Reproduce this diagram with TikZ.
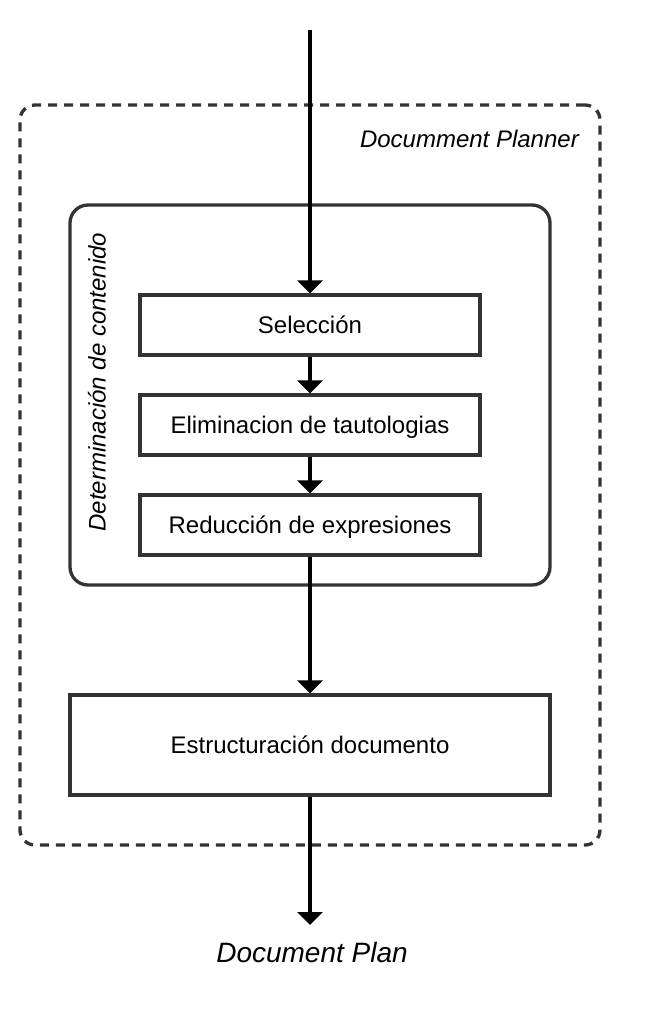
\documentclass[tikz,border=0pt]{standalone}
\usepackage{fontspec}
\setmainfont{Liberation Sans}
\usetikzlibrary{arrows.meta}
\definecolor{strokegray}{HTML}{333333}
\tikzset{
  procbox/.style={draw=strokegray, line width=3.3pt, fill=white, inner sep=0pt,
    text height=17.2pt, text depth=0pt,
    font=\fontsize{24}{29}\selectfont},
  groupbox/.style={draw=strokegray, line width=3.3pt, inner sep=0pt, rounded corners=18pt},
  dashbox/.style={draw=strokegray, line width=3.3pt, inner sep=0pt, rounded corners=15pt,
    dash pattern=on 9pt off 7pt},
  flow/.style={draw=black, line width=3.6pt, -{Triangle[width=25pt,length=13pt]}},
  label/.style={font=\fontsize{24}{29}\selectfont\itshape, inner sep=0pt}
}
\begin{document}
\begin{tikzpicture}[x=1pt,y=-1pt]
\useasboundingbox (0,0) rectangle (656,1025);
\node[dashbox, minimum width=580pt, minimum height=740pt] (planner) at (310,475) {};
\node[label, anchor=east] (plannerlbl) at (579,139) {Documment Planner};
\node[groupbox, minimum width=480pt, minimum height=380pt] (content) at (310,395) {};
\node[label, rotate=90] (contentlbl) at (97,382) {Determinación de contenido};
\node[procbox, minimum width=340pt, minimum height=60pt] (sel) at (310,325) {Selección};
\node[procbox, minimum width=340pt, minimum height=60pt] (elim) at (310,425) {Eliminacion de tautologias};
\node[procbox, minimum width=340pt, minimum height=60pt] (red) at (310,525) {Reducción de expresiones};
\node[procbox, minimum width=480pt, minimum height=100pt] (estr) at (310,745) {Estructuración documento};
\coordinate (start) at (310,30);
\coordinate (finish) at (310,925);
\node[font=\fontsize{28}{33}\selectfont\itshape, inner sep=0pt] (plan) at (312,952) {Document Plan};
\draw[flow] (start) -- (sel.north);
\draw[flow] (sel.south) -- (elim.north);
\draw[flow] (elim.south) -- (red.north);
\draw[flow] (red.south) -- (estr.north);
\draw[flow] (estr.south) -- (finish);
\end{tikzpicture}
\end{document}
